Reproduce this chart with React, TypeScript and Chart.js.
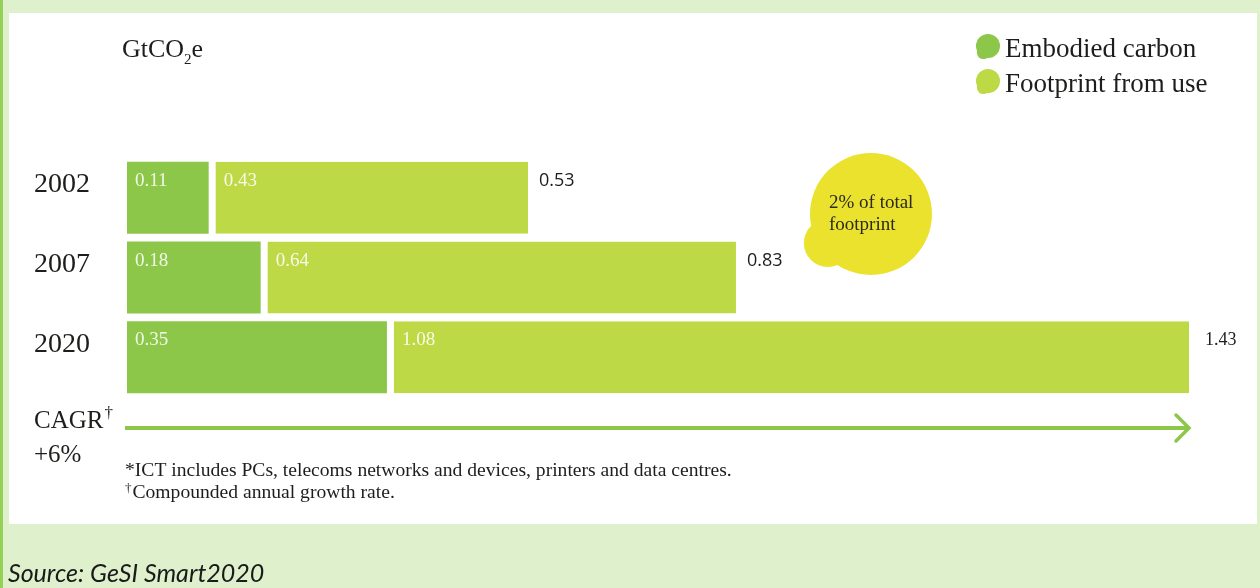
import React, { useEffect, useRef } from "react";
import { Chart, registerables } from "chart.js";

Chart.register(...registerables);

// ---- data ----
const years = ["2002", "2007", "2020"];
const embodiedCarbon = [0.11, 0.18, 0.35];
const footprintFromUse = [0.43, 0.64, 1.08];
const totals = [0.53, 0.83, 1.43];
const seriesLabels = ["Embodied carbon", "Footprint from use"];
const unitParts = ["GtCO", "2", "e"];
const cagrLabel = "CAGR";
const cagrValue = "+6%";
const calloutLines = ["2% of total", "footprint"];
const calloutYearIndex = 1;
const footnoteLines = [
  "*ICT includes PCs, telecoms networks and devices, printers and data centres.",
  "Compounded annual growth rate.",
];
const sourceText = "Source: GeSI Smart2020";
const xMax = 1.43;

// ---- styles ----
const COLORS = {
  embodied: "#8CC74A",
  use: "#BDD946",
  callout: "#EBE22E",
  arrow: "#8CC74A",
  text: "#1d1d1b",
  page: "#DFF0CC",
  stripe: "#93D257",
};
const SERIF = "'Liberation Serif', 'Times New Roman', serif";
const SANS = "'Open Sans', 'Liberation Sans', sans-serif";
const GAP = 7;
const totalFonts = [SANS, SANS, SERIF];

const rad = (d: number) => (d * Math.PI) / 180;

function drawBlob(
  ctx: CanvasRenderingContext2D,
  cx: number,
  cy: number,
  r: number,
  tipAngleDeg: number,
  tipDist: number,
  tr: number,
  color: string
) {
  const ta = rad(tipAngleDeg);
  const tx = cx + tipDist * Math.cos(ta);
  const ty = cy + tipDist * Math.sin(ta);
  ctx.save();
  ctx.fillStyle = color;
  ctx.beginPath();
  ctx.arc(cx, cy, r, 0, Math.PI * 2);
  ctx.fill();
  ctx.beginPath();
  ctx.arc(tx, ty, tr, 0, Math.PI * 2);
  ctx.fill();
  // neck
  const d = rad(62);
  const m1x = cx + r * Math.cos(ta + d);
  const m1y = cy + r * Math.sin(ta + d);
  const m2x = cx + r * Math.cos(ta - d);
  const m2y = cy + r * Math.sin(ta - d);
  const t1x = tx + tr * Math.cos(ta + Math.PI / 2);
  const t1y = ty + tr * Math.sin(ta + Math.PI / 2);
  const t2x = tx + tr * Math.cos(ta - Math.PI / 2);
  const t2y = ty + tr * Math.sin(ta - Math.PI / 2);
  const pull = 0.12;
  const ax = (cx + tx) / 2;
  const ay = (cy + ty) / 2;
  ctx.beginPath();
  ctx.moveTo(cx, cy);
  ctx.lineTo(m1x, m1y);
  ctx.quadraticCurveTo(
    (m1x + t1x) / 2 + (ax - (m1x + t1x) / 2) * pull,
    (m1y + t1y) / 2 + (ay - (m1y + t1y) / 2) * pull,
    t1x,
    t1y
  );
  ctx.lineTo(tx, ty);
  ctx.lineTo(t2x, t2y);
  ctx.quadraticCurveTo(
    (m2x + t2x) / 2 + (ax - (m2x + t2x) / 2) * pull,
    (m2y + t2y) / 2 + (ay - (m2y + t2y) / 2) * pull,
    m2x,
    m2y
  );
  ctx.closePath();
  ctx.fill();
  ctx.restore();
}

const decorPlugin = {
  id: "decor",
  afterDatasetsDraw(chart: any) {
    const ctx: CanvasRenderingContext2D = chart.ctx;
    const xs = chart.scales.x;
    ctx.save();
    ctx.textAlign = "left";
    ctx.textBaseline = "alphabetic";

    // values inside bars
    chart.data.datasets.forEach((ds: any, di: number) => {
      const meta = chart.getDatasetMeta(di);
      meta.data.forEach((el: any, i: number) => {
        const p = el.getProps(["x", "y", "base", "height"], true);
        const left = Math.min(p.x, p.base) + (di === 1 ? GAP : 0);
        const top = p.y - p.height / 2;
        ctx.font = `19px ${SERIF}`;
        ctx.fillStyle = "rgba(255,255,255,0.88)";
        ctx.fillText(Number(ds.data[i]).toFixed(2), left + 8, top + 24);
      });
    });

    // totals
    const lastMeta = chart.getDatasetMeta(chart.data.datasets.length - 1);
    const barEnds: number[] = [];
    lastMeta.data.forEach((el: any, i: number) => {
      const p = el.getProps(["x", "y", "base", "height"], true);
      const right = Math.max(p.x, p.base);
      barEnds.push(right);
      const top = p.y - p.height / 2;
      ctx.font = `18px ${totalFonts[i]}`;
      ctx.fillStyle = COLORS.text;
      ctx.fillText(totals[i].toFixed(2), right + (i === 2 ? 16 : 11), top + 24);
    });

    // unit title
    ctx.fillStyle = COLORS.text;
    let tx = 122;
    ctx.font = `26px ${SERIF}`;
    ctx.fillText(unitParts[0], tx, 57);
    tx += ctx.measureText(unitParts[0]).width;
    ctx.font = `15px ${SERIF}`;
    ctx.fillText(unitParts[1], tx, 64);
    tx += ctx.measureText(unitParts[1]).width;
    ctx.font = `26px ${SERIF}`;
    ctx.fillText(unitParts[2], tx, 57);

    // legend
    const legendColors = chart.data.datasets.map((d: any) => d.backgroundColor);
    const legendY = [46, 81];
    seriesLabels.forEach((lab, i) => {
      const cy = legendY[i];
      drawBlob(ctx, 988, cy, 12, 125, 8, 6.5, legendColors[i]);
      ctx.font = `27px ${SERIF}`;
      ctx.fillStyle = COLORS.text;
      ctx.fillText(lab, 1005, cy + 11);
    });

    // callout bubble, placed to the right of the 2007 total
    const bcx = barEnds[calloutYearIndex] + 135;
    const bcy = 214;
    drawBlob(ctx, bcx, bcy, 61, 146, 52, 24, COLORS.callout);
    ctx.font = `19px ${SERIF}`;
    ctx.fillStyle = "#2a2a1e";
    ctx.fillText(calloutLines[0], bcx - 42, 208);
    ctx.fillText(calloutLines[1], bcx - 42, 230);

    // CAGR arrow
    const x0 = xs.getPixelForValue(0) - 2;
    const x1 = xs.getPixelForValue(xMax);
    const ay = 428;
    ctx.strokeStyle = COLORS.arrow;
    ctx.lineWidth = 4;
    ctx.lineCap = "butt";
    ctx.beginPath();
    ctx.moveTo(x0, ay);
    ctx.lineTo(x1 - 1, ay);
    ctx.stroke();
    ctx.lineCap = "round";
    ctx.lineJoin = "miter";
    ctx.lineWidth = 3.5;
    ctx.beginPath();
    ctx.moveTo(x1 - 13, ay - 13);
    ctx.lineTo(x1, ay);
    ctx.lineTo(x1 - 13, ay + 13);
    ctx.stroke();

    // CAGR text
    ctx.fillStyle = COLORS.text;
    ctx.font = `25px ${SERIF}`;
    ctx.fillText(cagrLabel, 34, 428);
    const cw = ctx.measureText(cagrLabel).width;
    ctx.font = `17px ${SERIF}`;
    ctx.fillText("\u2020", 34 + cw + 1, 418);
    ctx.font = `25px ${SERIF}`;
    ctx.fillText(cagrValue, 34, 462);

    // footnotes
    ctx.font = `19.6px ${SERIF}`;
    ctx.fillText(footnoteLines[0], 125, 476);
    ctx.font = `13px ${SERIF}`;
    ctx.fillText("\u2020", 125, 492);
    const dw = ctx.measureText("\u2020").width;
    ctx.font = `19.6px ${SERIF}`;
    ctx.fillText(footnoteLines[1], 125 + dw + 1, 498);

    // source
    ctx.font = `italic 25px Lato, 'Open Sans', sans-serif`;
    ctx.fillStyle = "#1a1a1a";
    ctx.fillText(sourceText, 8, 582);

    ctx.restore();
  },
};

export default function App() {
  const canvasRef = useRef<HTMLCanvasElement | null>(null);

  useEffect(() => {
    if (!canvasRef.current) return;
    const chart = new Chart(canvasRef.current, {
      type: "bar",
      data: {
        labels: years,
        datasets: [
          {
            label: seriesLabels[0],
            data: embodiedCarbon,
            backgroundColor: COLORS.embodied,
            borderWidth: 0,
            borderSkipped: false,
          },
          {
            label: seriesLabels[1],
            data: footprintFromUse,
            backgroundColor: COLORS.use,
            borderColor: "#FFFFFF",
            borderWidth: { left: GAP, top: 0, right: 0, bottom: 0 },
            borderSkipped: false,
          },
        ],
      },
      options: {
        indexAxis: "y",
        responsive: false,
        maintainAspectRatio: false,
        animation: false,
        devicePixelRatio: 1,
        layout: { padding: { top: 158, bottom: 191, left: 0, right: 71 } },
        datasets: { bar: { categoryPercentage: 0.903, barPercentage: 1 } },
        scales: {
          x: { stacked: true, display: false, min: 0, max: xMax },
          y: {
            stacked: true,
            grid: { display: false, drawTicks: false },
            border: { display: false },
            ticks: {
              padding: 37,
              labelOffset: -13,
              color: COLORS.text,
              font: { family: SERIF, size: 28 },
            },
            afterFit: (scale: any) => {
              scale.width = 127;
            },
          },
        },
        plugins: {
          legend: { display: false },
          tooltip: { enabled: false },
        },
      } as any,
      plugins: [decorPlugin],
    });
    return () => chart.destroy();
  }, []);

  return (
    <div
      style={{
        position: "absolute",
        left: 0,
        top: 0,
        width: 1260,
        height: 588,
        background: COLORS.page,
        overflow: "hidden",
      }}
    >
      <div style={{ position: "absolute", left: 0, top: 0, width: 3, height: 588, background: COLORS.stripe }} />
      <div style={{ position: "absolute", left: 9, top: 13, width: 1248, height: 511, background: "#FFFFFF" }} />
      <canvas
        ref={canvasRef}
        width={1260}
        height={588}
        style={{ position: "absolute", left: 0, top: 0, width: 1260, height: 588 }}
      />
    </div>
  );
}
